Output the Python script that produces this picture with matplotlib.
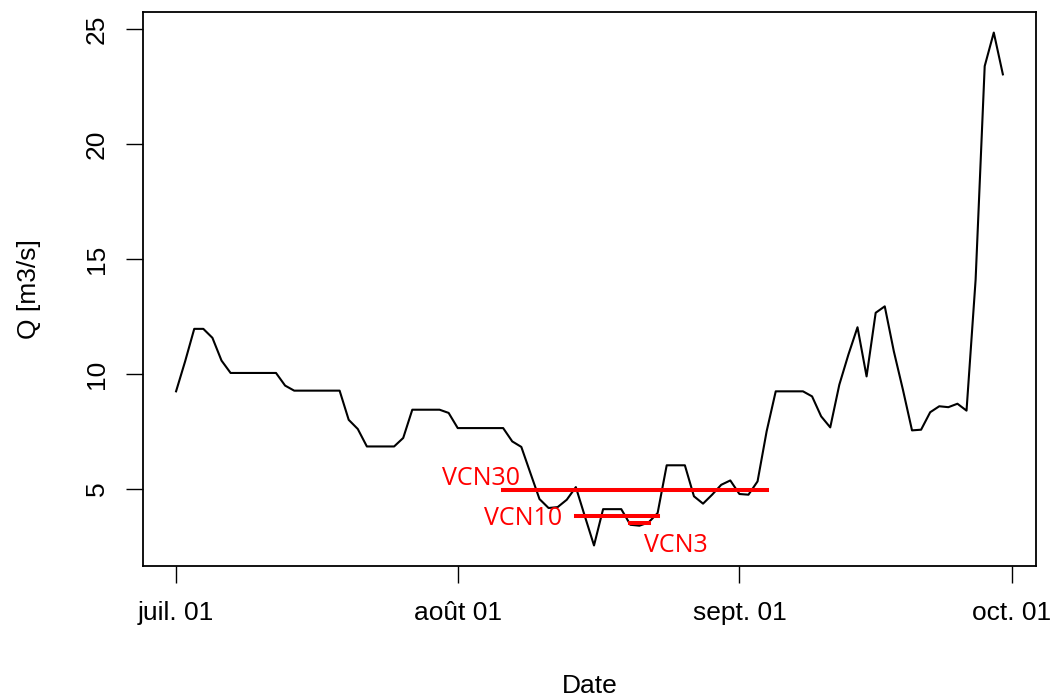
import matplotlib
matplotlib.use('Agg')
import matplotlib.pyplot as plt
import pandas as pd

# debit journalier, 1er juillet -> 30 septembre
dates = pd.date_range('2003-07-01', '2003-09-30', freq='D')
q = [9.24, 10.55, 11.96, 11.96, 11.57, 10.58,
     10.04, 10.04, 10.04, 10.04, 10.04, 10.04,
     9.49,
     9.27, 9.27, 9.27, 9.27, 9.27, 9.27,
     8.0, 7.6,
     6.84, 6.84, 6.84, 6.84,
     7.21,
     8.44, 8.44, 8.44, 8.44,
     8.3,
     7.64, 7.64, 7.64, 7.64, 7.64, 7.64,
     7.06, 6.82, 5.68, 4.55, 4.16, 4.2, 4.52, 5.07, 3.79, 2.53,
     4.11, 4.11, 4.11, 3.43, 3.39, 3.53, 3.94,
     6.02, 6.02, 6.02, 4.67, 4.35, 4.74, 5.17, 5.36, 4.77, 4.74, 5.32, 7.5,
     9.24, 9.24, 9.24, 9.24,
     9.02, 8.15, 7.67, 9.53, 10.84, 12.03, 9.89, 12.66, 12.94, 10.98,
     9.31, 7.54, 7.57, 8.33, 8.59, 8.55, 8.70, 8.40, 14.1, 23.4, 24.86, 23.04]

# VCN : (nom, debut, fin, valeur)
vcn_names = ['VCN30', 'VCN10', 'VCN3']
vcn_start = ['2003-08-06', '2003-08-14', '2003-08-20']
vcn_end = ['2003-09-04', '2003-08-23', '2003-08-22']
vcn_values = [4.93, 3.82, 3.5]

tick_dates = ['2003-07-01', '2003-08-01', '2003-09-01', '2003-10-01']
tick_labels = ['juil. 01', 'août 01', 'sept. 01', 'oct. 01']
y_ticks = [5, 10, 15, 20, 25]

plt.rcParams['font.family'] = ['Liberation Sans', 'DejaVu Sans']

fig = plt.figure(figsize=(10.53, 6.97), dpi=100)
ax = fig.add_axes([0.1358, 0.188, 0.8480, 0.7947])

ax.plot(dates, q, color='black', lw=1.5)
ax.margins(x=0.04, y=0.04)

for name, d0, d1, v in zip(vcn_names, vcn_start, vcn_end, vcn_values):
    ax.plot([pd.Timestamp(d0), pd.Timestamp(d1)], [v, v], color='#ff0000',
             lw=2.9, solid_capstyle='projecting')

red_font = dict(color='#ff0000', fontsize=18, family=['Open Sans', 'DejaVu Sans'])
ax.text(pd.Timestamp('2003-08-07') + pd.Timedelta(hours=21), 5.17, 'VCN30',
        ha='right', va='baseline', **red_font)
ax.text(pd.Timestamp('2003-08-12') + pd.Timedelta(hours=12), 3.43, 'VCN10',
        ha='right', va='baseline', **red_font)
ax.text(pd.Timestamp('2003-08-21') + pd.Timedelta(hours=11), 2.25, 'VCN3',
        ha='left', va='baseline', **red_font)

ax.set_xticks([pd.Timestamp(d) for d in tick_dates])
ax.set_xticklabels(tick_labels)
ax.set_yticks(y_ticks)
ax.set_yticklabels([str(v) for v in y_ticks], rotation=90, va='center')
ax.tick_params(direction='out', length=12.5, width=1.0, labelsize=19)
ax.tick_params(axis='x', pad=13)
ax.tick_params(axis='y', pad=12)
for s in ax.spines.values():
    s.set_linewidth(1.3)

ax.set_xlabel('Date', fontsize=19)
ax.set_ylabel('Q [m3/s]', fontsize=19)
ax.xaxis.set_label_coords(0.5, -0.195)
ax.yaxis.set_label_coords(-0.114, 0.5)

fig.savefig('out.png', dpi=100)
